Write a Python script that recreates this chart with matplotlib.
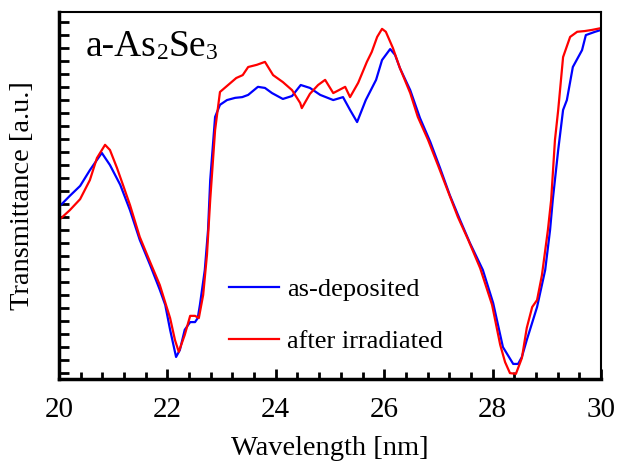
import matplotlib
matplotlib.use("Agg")
import matplotlib.pyplot as plt
import numpy as np

# wavelength [nm] and transmittance [a.u.]
wl_dep = [20.00, 20.20, 20.39, 20.57, 20.79, 20.94, 21.13, 21.31, 21.49, 21.68,
          21.86, 21.96, 22.05, 22.16, 22.23, 22.32, 22.42, 22.51, 22.56, 22.60,
          22.69, 22.75, 22.79, 22.88, 22.97, 23.10, 23.25, 23.38, 23.49, 23.67,
          23.80, 23.93, 24.13, 24.30, 24.46, 24.63, 24.82, 25.06, 25.24, 25.37,
          25.50, 25.66, 25.85, 25.96, 26.11, 26.20, 26.29, 26.48, 26.66, 26.85,
          27.03, 27.21, 27.40, 27.58, 27.82, 28.01, 28.19, 28.38, 28.47, 28.54,
          28.63, 28.82, 28.97, 29.06, 29.11, 29.21, 29.30, 29.37, 29.48, 29.65,
          29.72, 29.89, 30.00]
tr_dep = [0.469, 0.499, 0.526, 0.569, 0.616, 0.583, 0.529, 0.460, 0.379, 0.311,
          0.243, 0.202, 0.134, 0.060, 0.079, 0.134, 0.155, 0.155, 0.166, 0.202,
          0.297, 0.406, 0.542, 0.714, 0.747, 0.760, 0.766, 0.768, 0.774, 0.796,
          0.793, 0.779, 0.763, 0.771, 0.801, 0.793, 0.774, 0.760, 0.768, 0.733,
          0.700, 0.760, 0.815, 0.869, 0.899, 0.883, 0.847, 0.787, 0.711, 0.646,
          0.575, 0.501, 0.433, 0.371, 0.297, 0.207, 0.087, 0.041, 0.041, 0.060,
          0.106, 0.196, 0.297, 0.406, 0.488, 0.624, 0.733, 0.760, 0.850, 0.896,
          0.937, 0.946, 0.951]

wl_irr = [20.00, 20.20, 20.39, 20.57, 20.70, 20.85, 20.94, 21.07, 21.18, 21.31,
          21.49, 21.68, 21.86, 22.05, 22.14, 22.21, 22.32, 22.42, 22.51, 22.58,
          22.66, 22.73, 22.79, 22.88, 22.97, 23.12, 23.27, 23.39, 23.49, 23.65,
          23.80, 23.95, 24.13, 24.30, 24.45, 24.48, 24.63, 24.78, 24.91, 25.06,
          25.28, 25.37, 25.52, 25.68, 25.77, 25.87, 25.96, 26.03, 26.16, 26.29,
          26.48, 26.62, 26.81, 26.99, 27.18, 27.36, 27.55, 27.77, 27.99, 28.14,
          28.23, 28.32, 28.43, 28.54, 28.63, 28.73, 28.82, 28.91, 29.02, 29.08,
          29.15, 29.21, 29.30, 29.43, 29.56, 29.70, 29.83, 30.00]
tr_irr = [0.433, 0.460, 0.490, 0.542, 0.602, 0.638, 0.624, 0.575, 0.529, 0.474,
          0.387, 0.319, 0.256, 0.166, 0.106, 0.074, 0.120, 0.172, 0.172, 0.166,
          0.229, 0.338, 0.488, 0.678, 0.782, 0.801, 0.820, 0.828, 0.850, 0.856,
          0.864, 0.828, 0.809, 0.787, 0.752, 0.738, 0.777, 0.801, 0.815, 0.779,
          0.796, 0.768, 0.807, 0.864, 0.891, 0.932, 0.954, 0.946, 0.902, 0.847,
          0.779, 0.714, 0.651, 0.583, 0.510, 0.441, 0.379, 0.302, 0.202, 0.093,
          0.046, 0.016, 0.014, 0.057, 0.139, 0.196, 0.215, 0.283, 0.406, 0.488,
          0.651, 0.733, 0.877, 0.932, 0.946, 0.948, 0.951, 0.956]

plt.rcParams['font.family'] = ['Liberation Serif', 'DejaVu Serif']

fig = plt.figure(figsize=(6.17, 4.62), dpi=100)
ax = fig.add_axes([0.0956, 0.1797, 0.8785, 0.7944])

ax.plot(wl_dep, tr_dep, color='#0000ff', lw=1.6, label='as-deposited')
ax.plot(wl_irr, tr_irr, color='#ff0000', lw=1.6, label='after irradiated')

ax.set_xlim(20, 30)
ax.set_ylim(0, 1)
ax.set_xticks([20, 22, 24, 26, 28, 30])
ax.set_xticks(np.arange(20, 30.01, 0.4), minor=True)
ax.set_yticks(np.arange(0.016, 1, 0.0354))
ax.set_yticklabels([])
ax.tick_params(axis='x', which='major', direction='in', length=7, width=2,
               labelsize=21, pad=13)
ax.tick_params(axis='x', which='minor', direction='in', length=5, width=2)
ax.tick_params(axis='y', direction='in', length=7, width=2)
for side in ['left', 'bottom']:
    ax.spines[side].set_linewidth(2.5)
for side in ['top', 'right']:
    ax.spines[side].set_linewidth(1.5)

ax.set_xlabel('Wavelength [nm]', fontsize=20.5, labelpad=9)
ax.set_ylabel('Transmittance [a.u.]', fontsize=20.5, labelpad=14)

# sample name, subscripts kept on the baseline as in the original
t1 = ax.text(0.05, 0.88, 'a-As', transform=ax.transAxes, fontsize=27)
t2 = ax.annotate('2', xy=(1, 0), xycoords=t1, fontsize=17, va='bottom')
t3 = ax.annotate('Se', xy=(1, 0), xycoords=t2, fontsize=27, va='bottom')
ax.annotate('3', xy=(1, 0), xycoords=t3, fontsize=17, va='bottom')

ax.legend(loc='upper left', bbox_to_anchor=(0.314, 0.277), frameon=False,
          fontsize=19, handlelength=1.9, handletextpad=0.28, labelspacing=1.1,
          borderpad=0, borderaxespad=0)

fig.savefig('out.png', dpi=100)
